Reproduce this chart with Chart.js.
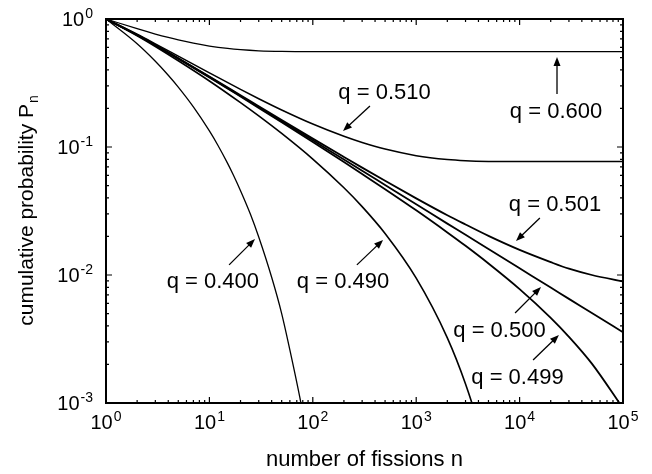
<!DOCTYPE html>
<html>
<head>
<meta charset="utf-8">
<script src="https://cdn.jsdelivr.net/npm/chart.js@4"></script>
<style>
  body { margin: 0; background: #fff; }
</style>
</head>
<body>
<canvas id="fissionChart" width="652" height="474"></canvas>
<script>
// tick labels (base 10, exponent drawn raised)
const xTicks = [1, 10, 100, 1000, 10000, 100000];
const xTickExp = ['0', '1', '2', '3', '4', '5'];
const yTicks = [1, 0.1, 0.01, 0.001];
const yTickExp = ['0', '-1', '-2', '-3'];

// number of fissions n
const nGrid = [1, 2, 3, 5, 10, 20, 30, 50, 100, 200, 300, 500, 1000, 2000, 3000, 5000, 10000, 20000, 30000, 50000, 100000];
const nGrid040 = [1, 2, 3, 4, 5, 7, 10, 12, 15, 17, 20, 25, 30, 40, 50, 60, 75, 80];
const nGrid049 = [1, 2, 3, 5, 10, 20, 30, 50, 100, 200, 300, 500, 1000, 2000, 3000, 4000, 5000];
const nGrid060 = [1, 2, 3, 4, 5, 7, 10, 15, 20, 30, 50, 100, 1000, 100000];

// cumulative probability P_n
const p600 = [1, 0.84, 0.7632, 0.7171, 0.6862, 0.647, 0.6149, 0.5887, 0.5758, 0.5644, 0.5578, 0.5557, 0.5556, 0.5556];
const p510 = [1, 0.7599, 0.6399, 0.5125, 0.3797, 0.2818, 0.2383, 0.1946, 0.1511, 0.1212, 0.1084, 0.0963, 0.0856, 0.0799, 0.0782, 0.0772, 0.0769, 0.0769, 0.0769, 0.0769, 0.0769];
const p501 = [1, 0.751, 0.6265, 0.4942, 0.3552, 0.2537, 0.2083, 0.1625, 0.1163, 0.0836, 0.069, 0.0544, 0.0397, 0.0293, 0.0248, 0.0202, 0.0157, 0.0126, 0.0112, 0.01, 0.0089];
const p500 = [1, 0.75, 0.625, 0.4922, 0.3524, 0.2507, 0.2051, 0.1591, 0.1127, 0.0799, 0.0652, 0.0505, 0.0357, 0.0252, 0.0206, 0.01595, 0.01128, 0.00798, 0.00651, 0.00505, 0.00357];
const p499 = [1, 0.749, 0.6235, 0.4902, 0.35, 0.2477, 0.202, 0.1558, 0.1092, 0.0762, 0.0615, 0.0468, 0.032, 0.0215, 0.0169, 0.0123, 0.00776, 0.00463, 0.00329, 0.00203, 0.00091];
const p490 = [1, 0.7399, 0.6099, 0.4718, 0.328, 0.222, 0.1748, 0.1275, 0.0804, 0.048, 0.0342, 0.0211, 0.00945, 0.00323, 0.00141, 0.00068, 0.00035];
const p400 = [1, 0.64, 0.4672, 0.3635, 0.2938, 0.2058, 0.1335, 0.1041, 0.0745, 0.0607, 0.0456, 0.0297, 0.0198, 0.0096, 0.005, 0.0026, 0.0011, 0.00083];

// curve labels, placed in data units: text centre, arrow tail, arrow head
const curveLabels = [
  { text: 'q = 0.600', at: [22500, 0.195], from: [23000, 0.26], to: [23000, 0.505] },
  { text: 'q = 0.510', at: [494, 0.274], from: [357, 0.209], to: [196, 0.1334] },
  { text: 'q = 0.501', at: [22000, 0.0365], from: [15700, 0.0279], to: [9230, 0.0184] },
  { text: 'q = 0.400', at: [10.8, 0.00914], from: [15.5, 0.012], to: [27.6, 0.0191] },
  { text: 'q = 0.490', at: [196, 0.00914], from: [267, 0.012], to: [478, 0.0188] },
  { text: 'q = 0.500', at: [6390, 0.00379], from: [9040, 0.00505], to: [16100, 0.00806] },
  { text: 'q = 0.499', at: [9540, 0.00163], from: [13500, 0.00217], to: [24000, 0.0034] }
];

const FONT = '"Liberation Sans", Arial, Helvetica, sans-serif';

function pts(ns, ps) {
  return ns.map((n, i) => ({ x: n, y: ps[i] }));
}

function curve(ns, ps, w) {
  return {
    data: pts(ns, ps),
    borderColor: '#000',
    borderWidth: w,
    pointRadius: 0,
    cubicInterpolationMode: 'monotone',
    fill: false
  };
}

function drawPow(ctx, exp, x, y, align) {
  ctx.font = '20px ' + FONT;
  const wBase = ctx.measureText('10').width;
  ctx.font = '14px ' + FONT;
  const wExp = ctx.measureText(exp).width;
  let x0 = align === 'right' ? x - wBase - wExp - 1 : x - (wBase + wExp + 1) / 2;
  ctx.textAlign = 'left';
  ctx.textBaseline = 'alphabetic';
  ctx.font = '20px ' + FONT;
  ctx.fillText('10', x0, y);
  ctx.font = '14px ' + FONT;
  ctx.fillText(exp, x0 + wBase + 1, y - 8);
}

function arrow(ctx, x1, y1, x2, y2) {
  const ang = Math.atan2(y2 - y1, x2 - x1);
  const len = 9, hw = 3.5;
  ctx.beginPath();
  ctx.moveTo(x1, y1);
  ctx.lineTo(x2 - Math.cos(ang) * len * 0.8, y2 - Math.sin(ang) * len * 0.8);
  ctx.stroke();
  ctx.beginPath();
  ctx.moveTo(x2, y2);
  ctx.lineTo(x2 - Math.cos(ang) * len - Math.sin(ang) * hw, y2 - Math.sin(ang) * len + Math.cos(ang) * hw);
  ctx.lineTo(x2 - Math.cos(ang) * len + Math.sin(ang) * hw, y2 - Math.sin(ang) * len - Math.cos(ang) * hw);
  ctx.closePath();
  ctx.fill();
}

const framePlugin = {
  id: 'framePlugin',
  beforeDraw(chart) {
    const ctx = chart.ctx;
    ctx.save();
    ctx.fillStyle = '#fff';
    ctx.fillRect(0, 0, chart.width, chart.height);
    ctx.restore();
  },
  afterDraw(chart) {
    const { ctx, chartArea: a, scales: { x, y } } = chart;
    ctx.save();
    ctx.strokeStyle = '#000';
    ctx.fillStyle = '#000';

    // inward ticks on all four sides
    ctx.lineWidth = 1.2;
    ctx.beginPath();
    for (let d = 0; d < xTicks.length; d++) {
      for (let m = 1; m <= 9; m++) {
        const v = xTicks[d] * m;
        if (v > xTicks[xTicks.length - 1]) break;
        const px = x.getPixelForValue(v);
        const len = m === 1 ? 6 : 3;
        ctx.moveTo(px, a.bottom); ctx.lineTo(px, a.bottom - len);
        ctx.moveTo(px, a.top); ctx.lineTo(px, a.top + len);
      }
    }
    for (let d = 0; d < yTicks.length; d++) {
      for (let m = 1; m <= 9; m++) {
        const v = yTicks[d] * m;
        if (v > yTicks[0]) break;
        const py = y.getPixelForValue(v);
        const len = m === 1 ? 6 : 3;
        ctx.moveTo(a.left, py); ctx.lineTo(a.left + len, py);
        ctx.moveTo(a.right, py); ctx.lineTo(a.right - len, py);
      }
    }
    ctx.stroke();

    ctx.lineWidth = 2;
    ctx.strokeRect(a.left, a.top, a.right - a.left, a.bottom - a.top);

    // tick labels
    xTicks.forEach((v, i) => drawPow(ctx, xTickExp[i], x.getPixelForValue(v), a.bottom + 26, 'center'));
    yTicks.forEach((v, i) => drawPow(ctx, yTickExp[i], a.left - 13, y.getPixelForValue(v) + 7, 'right'));

    // axis titles
    ctx.font = '22px ' + FONT;
    ctx.textAlign = 'center';
    ctx.textBaseline = 'alphabetic';
    ctx.fillText('number of fissions n', (a.left + a.right) / 2, 466);

    ctx.save();
    ctx.translate(33, (a.top + a.bottom) / 2);
    ctx.rotate(-Math.PI / 2);
    ctx.font = '21px ' + FONT;
    const main = 'cumulative probability P';
    const wMain = ctx.measureText(main).width;
    ctx.font = '14px ' + FONT;
    const wSub = ctx.measureText('n').width;
    const sx = -(wMain + wSub) / 2;
    ctx.textAlign = 'left';
    ctx.font = '21px ' + FONT;
    ctx.fillText(main, sx, 0);
    ctx.font = '14px ' + FONT;
    ctx.fillText('n', sx + wMain + 1, 5);
    ctx.restore();

    // curve labels with arrows
    ctx.lineWidth = 1.3;
    curveLabels.forEach(l => {
      ctx.font = '22px ' + FONT;
      ctx.textAlign = 'center';
      ctx.fillText(l.text, x.getPixelForValue(l.at[0]), y.getPixelForValue(l.at[1]) + 8);
      arrow(ctx,
        x.getPixelForValue(l.from[0]), y.getPixelForValue(l.from[1]),
        x.getPixelForValue(l.to[0]), y.getPixelForValue(l.to[1]));
    });
    ctx.restore();
  }
};

const ctx = document.getElementById('fissionChart');

new Chart(ctx, {
  type: 'line',
  data: {
    datasets: [
      curve(nGrid060, p600, 1.3),
      curve(nGrid, p510, 1.5),
      curve(nGrid, p501, 1.8),
      curve(nGrid, p500, 1.8),
      curve(nGrid, p499, 1.8),
      curve(nGrid049, p490, 1.6),
      curve(nGrid040, p400, 1.3)
    ]
  },
  options: {
    responsive: false,
    animation: false,
    layout: { padding: { left: 106, right: 29, top: 19, bottom: 71 } },
    plugins: {
      legend: { display: false },
      tooltip: { enabled: false }
    },
    scales: {
      x: { type: 'logarithmic', min: 1, max: 100000, display: false },
      y: { type: 'logarithmic', min: 0.001, max: 1, display: false }
    }
  },
  plugins: [framePlugin]
});
</script>
</body>
</html>
